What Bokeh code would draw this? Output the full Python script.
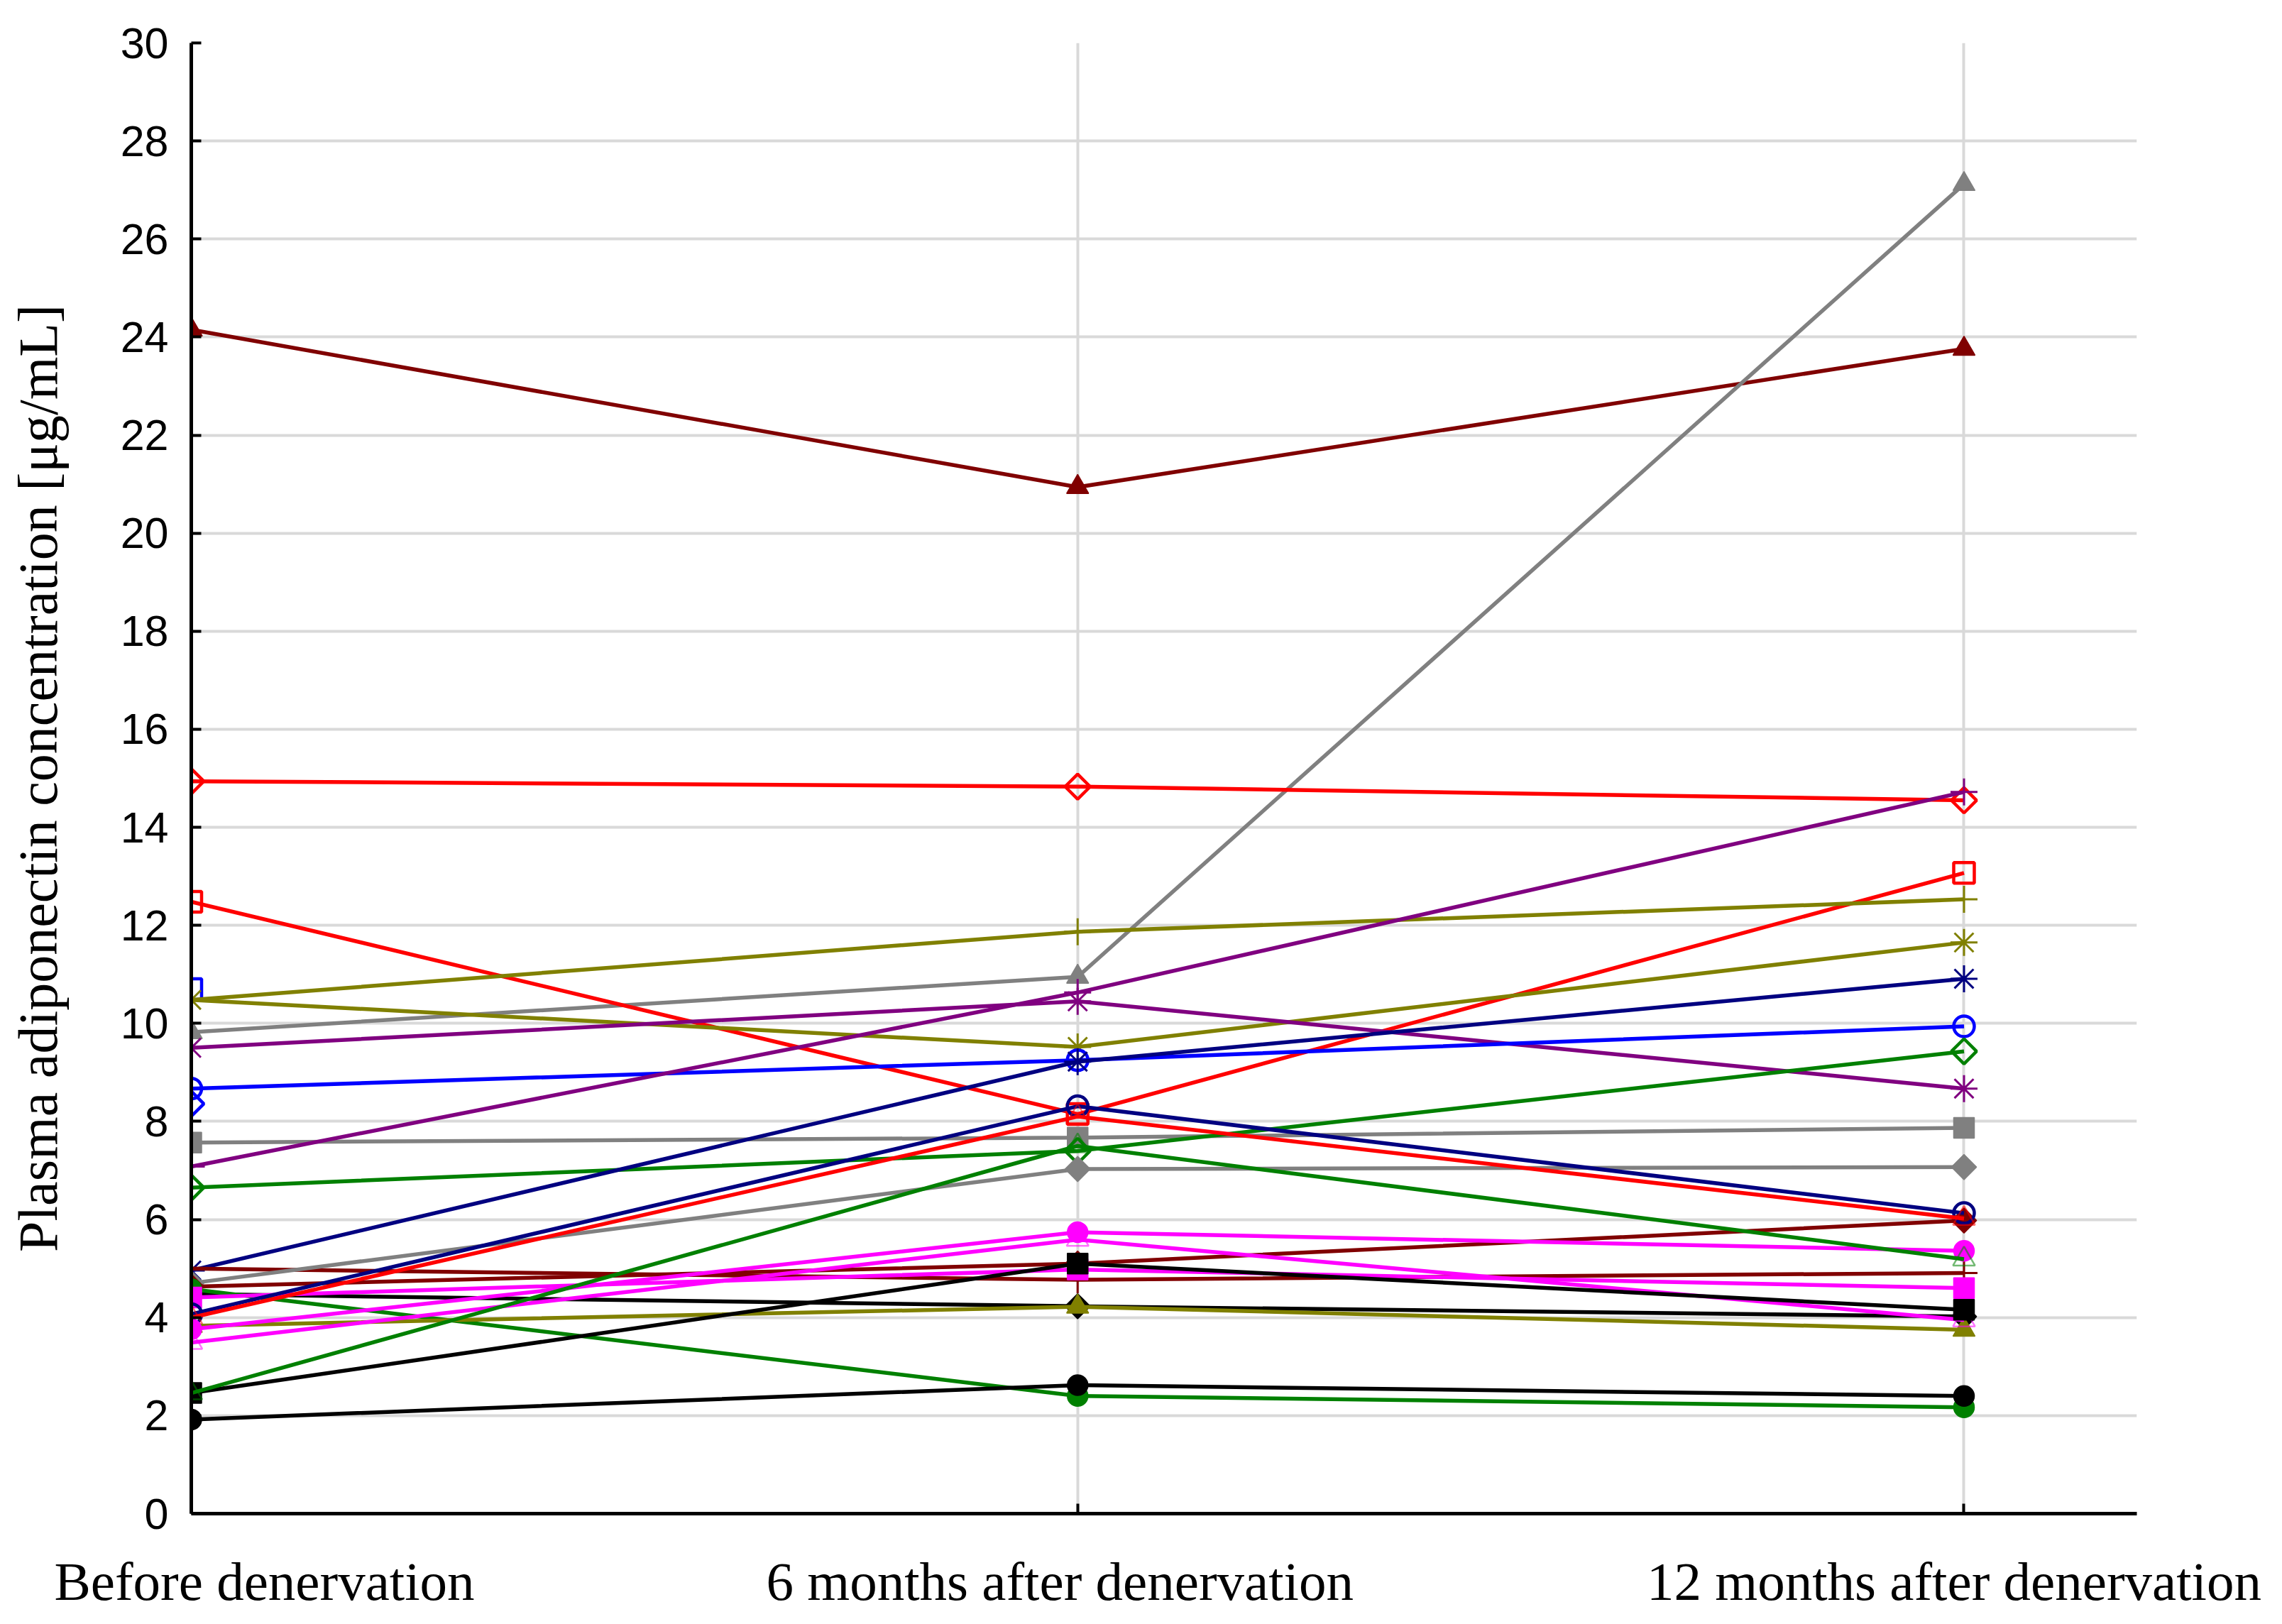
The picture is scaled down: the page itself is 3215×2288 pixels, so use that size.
import math
from bokeh.plotting import figure
from bokeh.models import Range1d, FixedTicker, LinearAxis
from bokeh.embed import file_html
from bokeh.resources import INLINE

nan = float("nan")

categories = ["Before denervation", "6 months after denervation", "12 months after denervation"]
y_ticks = list(range(0, 31, 2))

# one entry per patient (value before, at 6 months, at 12 months)
before  = [24.15,  9.82, 14.94, 12.48, 10.70, 10.48, 10.48, 9.50, 8.67, 8.36, 7.57, 7.08, 6.65, 4.96,
           5.00,  4.70,  4.63,  4.48,  4.58,  4.41,  4.07, 4.00, 3.83, 3.76, 3.49, 2.46, 2.46, 1.92]
month6  = [20.94, 10.95, 14.83,  8.15,   nan, 11.87,  9.52, 10.45, 9.25,  nan, 7.67, 10.63, 7.40, 9.22,
           4.77,  7.03,  5.10,  4.23,  2.40,  4.98,  8.31, 8.10, 4.22, 5.74, 5.59, 5.10, 7.50, 2.62]
month12 = [23.76, 27.12, 14.55, 13.07,   nan, 12.53, 11.65, 8.67, 9.94,  nan, 7.87, 14.72, 9.43, 10.91,
           4.91,  7.07,  5.98,  4.02,  2.17,  4.60,  6.13, 6.02, 3.75, 5.36, 3.95, 4.16, 5.19, 2.40]
colors  = ["#800000", "#808080", "#ff0000", "#ff0000", "#0000ff", "#808000", "#808000", "#800080",
           "#0000ff", "#0000ff", "#808080", "#800080", "#008000", "#000080", "#800000", "#808080",
           "#800000", "#000000", "#008000", "#ff00ff", "#000080", "#ff0000", "#808000", "#ff00ff",
           "#ff00ff", "#000000", "#008000", "#000000"]
markers = ["triangle", "triangle", "diamond", "square", "square", "cross", "asterisk", "asterisk",
           "circle", "diamond", "square", "cross", "diamond", "asterisk", "cross", "diamond",
           "diamond", "diamond", "circle", "square", "circle", "triangle", "triangle", "circle",
           "triangle", "square", "triangle", "circle"]
filled  = [True, True, False, False, False, True, True, True,
           False, False, True, True, False, True, True, True,
           True, True, True, True, False, False, True, True,
           False, True, False, True]

W, H = 3215, 2288
X_END = 2.195
p = figure(width=W, height=H, output_backend="svg", toolbar_location=None,
           x_range=Range1d(0, X_END), y_range=Range1d(0, 30),
           min_border_left=269, min_border_right=205, min_border_top=60, min_border_bottom=156)
p.outline_line_color = None
p.background_fill_color = "white"
p.border_fill_color = "white"

# axes
for ax in (p.xaxis[0], p.yaxis[0]):
    ax.axis_line_width = 5
    ax.axis_line_color = "black"
    ax.major_tick_in = 14
    ax.major_tick_out = 0
    ax.major_tick_line_width = 4
    ax.major_tick_line_color = "black"
    ax.minor_tick_line_color = None

p.yaxis.ticker = FixedTicker(ticks=y_ticks)
p.yaxis.major_label_text_font = "Liberation Sans"
p.yaxis.major_label_text_font_size = "61px"
p.yaxis.major_label_text_color = "black"
p.yaxis.major_label_standoff = 32
p.yaxis.axis_label = "Plasma adiponectin concentration [\u03bcg/mL]"
p.yaxis.axis_label_text_font = "Liberation Serif"
p.yaxis.axis_label_text_font_style = "normal"
p.yaxis.axis_label_text_font_size = "78px"
p.yaxis.axis_label_text_color = "black"
p.yaxis.axis_label_standoff = 70

xs = list(range(len(categories)))
p.xaxis.ticker = FixedTicker(ticks=xs)
p.xaxis.major_label_overrides = {i: "" for i in xs}
p.xaxis.major_label_text_font_size = "1px"
p.xaxis.major_label_standoff = 0

# category labels: a second, line-less axis below; label anchors nudged (in pixels) like the original
px_per_unit = 2741 / X_END
nudges = [103, -25, -14]
label_pos = [xs[i] + nudges[i] / px_per_unit for i in xs]
lab_axis = LinearAxis(ticker=FixedTicker(ticks=label_pos),
                      major_label_overrides={label_pos[i]: categories[i] for i in xs})
lab_axis.axis_line_color = None
lab_axis.major_tick_line_color = None
lab_axis.minor_tick_line_color = None
lab_axis.major_tick_in = 0
lab_axis.major_tick_out = 0
lab_axis.major_label_standoff = 52
lab_axis.major_label_text_font = "Liberation Serif"
lab_axis.major_label_text_font_size = "77px"
lab_axis.major_label_text_color = "black"
p.add_layout(lab_axis, "below")

# grids
p.xgrid.ticker = FixedTicker(ticks=xs[1:])
p.ygrid.ticker = FixedTicker(ticks=y_ticks[1:-1])
for g in (p.xgrid[0], p.ygrid[0]):
    g.grid_line_color = "#d9d9d9"
    g.grid_line_width = 4

sizes = {"triangle": 31, "square": 29, "circle": 29, "diamond": 25, "cross": 38, "asterisk": 38}

for i in range(len(before)):
    ys = [before[i], month6[i], month12[i]]
    c = colors[i]
    p.line(xs, ys, line_color=c, line_width=5.5)
    m = markers[i]
    shape = "square" if m == "diamond" else m
    ang = math.pi / 4 if m == "diamond" else 0.0
    kw = dict(marker=shape, size=sizes[m], angle=ang, line_color=c)
    if m in ("cross", "asterisk"):
        kw.update(line_width=3, fill_color=None)
    elif filled[i]:
        kw.update(fill_color=c, line_width=1.5)
    else:
        faint = (m == "triangle")
        kw.update(fill_color=None, line_width=2.5 if faint else 4.5, line_alpha=0.55 if faint else 1.0)
    p.scatter(xs, ys, **kw)

open("out.html", "w").write(file_html(p, INLINE))
